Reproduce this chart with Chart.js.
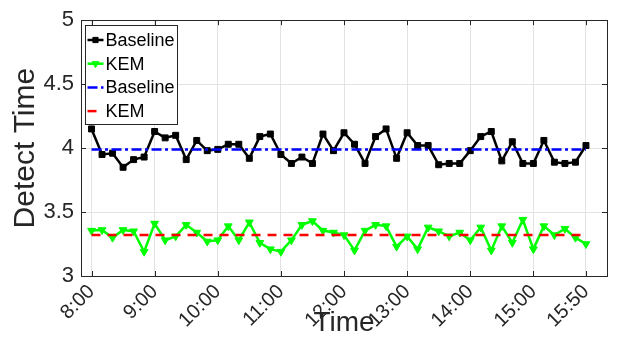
<!DOCTYPE html>
<html>
<head>
<meta charset="utf-8">
<script src="https://cdn.jsdelivr.net/npm/chart.js@4.4.1/dist/chart.umd.min.js"></script>
<style>
    html, body { margin: 0; padding: 0; background: #fff; }
    #wrap { width: 618px; height: 339px; }
</style>
</head>
<body>
<div id="wrap"><canvas id="detectChart" width="618" height="339"></canvas></div>
<script>
//! ======================== Data ========================
const sampleTimes = [
    '8:00', '8:10', '8:20', '8:30', '8:40', '8:50',
    '9:00', '9:10', '9:20', '9:30', '9:40', '9:50',
    '10:00', '10:10', '10:20', '10:30', '10:40', '10:50',
    '11:00', '11:10', '11:20', '11:30', '11:40', '11:50',
    '12:00', '12:10', '12:20', '12:30', '12:40', '12:50',
    '13:00', '13:10', '13:20', '13:30', '13:40', '13:50',
    '14:00', '14:10', '14:20', '14:30', '14:40', '14:50',
    '15:00', '15:10', '15:20', '15:30', '15:40', '15:50'
];

const baselineValues = [
    4.15, 3.95, 3.96, 3.85, 3.91, 3.93, 4.13, 4.08, 4.10, 3.91, 4.06, 3.98,
    3.99, 4.03, 4.03, 3.92, 4.09, 4.11, 3.95, 3.88, 3.93, 3.88, 4.11, 3.98,
    4.12, 4.03, 3.88, 4.09, 4.15, 3.92, 4.12, 4.02, 4.02, 3.87, 3.88, 3.88,
    3.98, 4.09, 4.13, 3.90, 4.05, 3.88, 3.88, 4.06, 3.89, 3.88, 3.89, 4.02
];

const kemValues = [
    3.355, 3.36, 3.30, 3.36, 3.35, 3.19, 3.41, 3.28, 3.31, 3.40, 3.34, 3.27,
    3.28, 3.39, 3.28, 3.42, 3.26, 3.21, 3.19, 3.28, 3.40, 3.43, 3.355, 3.34,
    3.32, 3.20, 3.355, 3.40, 3.39, 3.23, 3.31, 3.21, 3.38, 3.35, 3.31, 3.34,
    3.28, 3.38, 3.20, 3.39, 3.26, 3.44, 3.21, 3.39, 3.32, 3.37, 3.30, 3.25
];

const baselineMean = 3.99;
const kemMean = 3.32;

const xTickLabels = ['8:00', '9:00', '10:00', '11:00', '12:00', '13:00', '14:00', '15:00', '15:50'];
const xRange = ['7:50', '16:10'];
const yTickValues = [3, 3.5, 4, 4.5, 5];
const yTickLabels = ['3', '3.5', '4', '4.5', '5'];

const FONT = "'Liberation Sans', Arial, Helvetica, sans-serif";
const AXIS_COLOR = '#262626';

//! ======================== Helpers ========================
function toMinutes(t) {
    const [h, m] = t.split(':').map(Number);
    return (h - 8) * 60 + m;
}

function seriesPoints(values) {
    return sampleTimes.map((t, i) => ({ x: toMinutes(t), y: values[i] }));
}

function meanPoints(value) {
    return [
        { x: toMinutes(sampleTimes[0]), y: value },
        { x: toMinutes(sampleTimes[sampleTimes.length - 1]), y: value }
    ];
}

//! =============== Frame + inward ticks (matlab style) ===============
const framePlugin = {
    id: 'frame',
    afterDatasetsDraw(chart) {
        const { ctx, chartArea: ca, scales } = chart;
        ctx.save();
        ctx.strokeStyle = AXIS_COLOR;
        ctx.lineWidth = 1;
        ctx.beginPath();
        scales.x.ticks.forEach(t => {
            const px = Math.round(scales.x.getPixelForValue(t.value)) + 0.5;
            ctx.moveTo(px, ca.bottom); ctx.lineTo(px, ca.bottom - 5);
            ctx.moveTo(px, ca.top); ctx.lineTo(px, ca.top + 5);
        });
        scales.y.ticks.forEach(t => {
            const py = Math.round(scales.y.getPixelForValue(t.value)) + 0.5;
            ctx.moveTo(ca.left, py); ctx.lineTo(ca.left + 5, py);
            ctx.moveTo(ca.right, py); ctx.lineTo(ca.right - 5, py);
        });
        ctx.stroke();
        ctx.strokeRect(Math.round(ca.left) + 0.5, Math.round(ca.top) + 0.5,
            Math.round(ca.right - ca.left), Math.round(ca.bottom - ca.top));
        ctx.restore();
    }
};

//! ======================== Legend box ========================
const legendBoxPlugin = {
    id: 'legendBox',
    afterDraw(chart) {
        const { ctx, chartArea: ca } = chart;
        const bx = Math.round(ca.left) + 4.5, by = Math.round(ca.top) + 5.5;
        const bw = 92, bh = 99;
        ctx.save();
        ctx.fillStyle = '#fff';
        ctx.fillRect(bx, by, bw, bh);
        ctx.strokeStyle = AXIS_COLOR;
        ctx.lineWidth = 1;
        ctx.strokeRect(bx, by, bw, bh);

        chart.data.datasets.forEach((ds, i) => {
            const cy = by + 14.5 + i * 23.7;
            ctx.strokeStyle = ds.borderColor;
            ctx.lineWidth = ds.borderWidth;
            ctx.setLineDash(ds.borderDash || []);
            ctx.beginPath();
            ctx.moveTo(bx + 2, cy);
            ctx.lineTo(bx + 18, cy);
            ctx.stroke();
            ctx.setLineDash([]);
            if (ds.pointRadius > 0) {
                ctx.fillStyle = ds.pointBackgroundColor;
                ctx.strokeStyle = ds.pointBorderColor;
                ctx.lineWidth = 1;
                Chart.helpers.drawPoint(ctx, {
                    pointStyle: ds.pointStyle,
                    rotation: ds.pointRotation || 0,
                    radius: ds.pointRadius - 0.5,
                    borderWidth: 1
                }, bx + 10, cy);
            }
            ctx.fillStyle = '#000';
            ctx.font = '18px ' + FONT;
            ctx.textBaseline = 'middle';
            ctx.textAlign = 'left';
            ctx.fillText(ds.label, bx + 20, cy + 1);
        });
        ctx.restore();
    }
};

//! ======================== Chart ========================
const ctx = document.getElementById('detectChart').getContext('2d');

new Chart(ctx, {
    type: 'line',
    data: {
        datasets: [
            {
                label: 'Baseline',
                data: seriesPoints(baselineValues),
                borderColor: '#000000',
                borderWidth: 2.5,
                pointStyle: 'rect',
                pointRadius: 4.2,
                pointBackgroundColor: '#000000',
                pointBorderColor: '#000000',
                pointBorderWidth: 1,
                tension: 0,
                order: 1
            },
            {
                label: 'KEM',
                data: seriesPoints(kemValues),
                borderColor: '#00ff00',
                borderWidth: 2.5,
                pointStyle: 'triangle',
                pointRotation: 180,
                pointRadius: 4.5,
                pointBackgroundColor: '#00ff00',
                pointBorderColor: '#00ff00',
                pointBorderWidth: 1,
                tension: 0,
                order: 1
            },
            {
                label: 'Baseline',
                data: meanPoints(baselineMean),
                borderColor: '#0000ff',
                borderWidth: 2.5,
                borderDash: [10, 3.5, 3, 3.5],
                pointRadius: 0,
                order: 0
            },
            {
                label: 'KEM',
                data: meanPoints(kemMean),
                borderColor: '#ff0000',
                borderWidth: 2.5,
                borderDash: [9, 7],
                pointRadius: 0,
                order: 0
            }
        ]
    },
    options: {
        responsive: false,
        animation: false,
        layout: { padding: { top: 16, right: 11, left: 0, bottom: 0 } },
        plugins: {
            legend: { display: false },
            tooltip: { enabled: false }
        },
        scales: {
            x: {
                type: 'linear',
                min: toMinutes(xRange[0]),
                max: toMinutes(xRange[1]),
                afterBuildTicks: scale => {
                    scale.ticks = xTickLabels.map(l => ({ value: toMinutes(l) }));
                },
                afterFit: scale => { scale.height = 63; },
                grid: { color: '#e3e3e3', lineWidth: 1, drawTicks: false },
                border: { display: false },
                ticks: {
                    autoSkip: false,
                    minRotation: 45,
                    maxRotation: 45,
                    padding: 4,
                    color: AXIS_COLOR,
                    font: { family: FONT, size: 20 },
                    callback: (value) => xTickLabels.find(l => toMinutes(l) === value) || ''
                },
                title: {
                    display: true,
                    text: 'Time',
                    color: AXIS_COLOR,
                    font: { family: FONT, size: 28 },
                    padding: { top: 0, bottom: -1 }
                }
            },
            y: {
                min: 3,
                max: 5,
                afterBuildTicks: scale => {
                    scale.ticks = yTickValues.map(v => ({ value: v }));
                },
                afterFit: scale => { scale.width = 81; },
                grid: { color: '#e3e3e3', lineWidth: 1, drawTicks: false },
                border: { display: false },
                ticks: {
                    padding: 7,
                    color: AXIS_COLOR,
                    font: { family: FONT, size: 22 },
                    callback: (value) => yTickLabels[yTickValues.indexOf(value)]
                },
                title: {
                    display: true,
                    text: 'Detect Time',
                    color: AXIS_COLOR,
                    font: { family: FONT, size: 30 },
                    padding: { top: 8, bottom: 0 }
                }
            }
        }
    },
    plugins: [framePlugin, legendBoxPlugin]
});
</script>
</body>
</html>
